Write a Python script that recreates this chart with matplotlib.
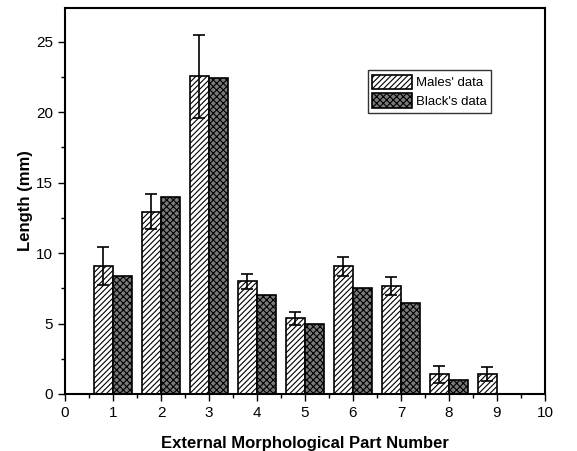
import matplotlib
matplotlib.use("Agg")
import matplotlib.pyplot as plt
import numpy as np
from matplotlib.ticker import MultipleLocator

plt.rcParams['font.family'] = ['Liberation Sans', 'DejaVu Sans']
plt.rcParams['hatch.linewidth'] = 0.8

parts = [1, 2, 3, 4, 5, 6, 7, 8, 9]
males = [9.1, 12.95, 22.55, 8.0, 5.37, 9.05, 7.67, 1.4, 1.4]
males_err = [1.35, 1.25, 2.95, 0.55, 0.45, 0.7, 0.65, 0.6, 0.5]
black = [8.4, 14.0, 22.4, 7.0, 5.0, 7.5, 6.45, 1.0, 0.0]

fig = plt.figure(figsize=(5.77, 4.51), dpi=100)
ax = fig.add_axes([0.1127, 0.1264, 0.8318, 0.856])

x = np.array(parts, dtype=float)
w = 0.4
ax.bar(x - w/2, males, width=w, facecolor='white', edgecolor='black',
       hatch='//////', linewidth=1.2, label="Males' data", zorder=2)
ax.errorbar(x - w/2, males, yerr=males_err, fmt='none', ecolor='black',
            elinewidth=1.2, capsize=4, capthick=1.2, zorder=3)
bmask = np.array(black) > 0
ax.bar(x[bmask] + w/2, np.array(black)[bmask], width=w, facecolor='#7a7a7a',
       edgecolor='black', hatch='xxxxx', linewidth=1.2, label="Black's data", zorder=2)

ax.set_xlim(0, 10)
ax.set_ylim(0, 27.4)
ax.xaxis.set_major_locator(MultipleLocator(1))
ax.xaxis.set_minor_locator(MultipleLocator(0.5))
ax.yaxis.set_major_locator(MultipleLocator(5))
ax.yaxis.set_minor_locator(MultipleLocator(2.5))
ax.tick_params(which='major', direction='out', length=5, width=1, labelsize=11)
ax.tick_params(which='minor', direction='out', length=3, width=1)
for s in ax.spines.values():
    s.set_linewidth(1.5)

ax.set_xlabel('External Morphological Part Number', fontsize=12, fontweight='bold', labelpad=12)
ax.set_ylabel('Length (mm)', fontsize=12, fontweight='bold', labelpad=2)

leg = ax.legend(loc='upper left', bbox_to_anchor=(0.631, 0.839), frameon=True, fancybox=False,
                edgecolor='black', fontsize=9.5, handlelength=3.0, handleheight=1.3,
                borderpad=0.35, labelspacing=0.3, handletextpad=0.3, borderaxespad=0)
leg.get_frame().set_linewidth(1.0)

fig.savefig('out.png', dpi=100)
